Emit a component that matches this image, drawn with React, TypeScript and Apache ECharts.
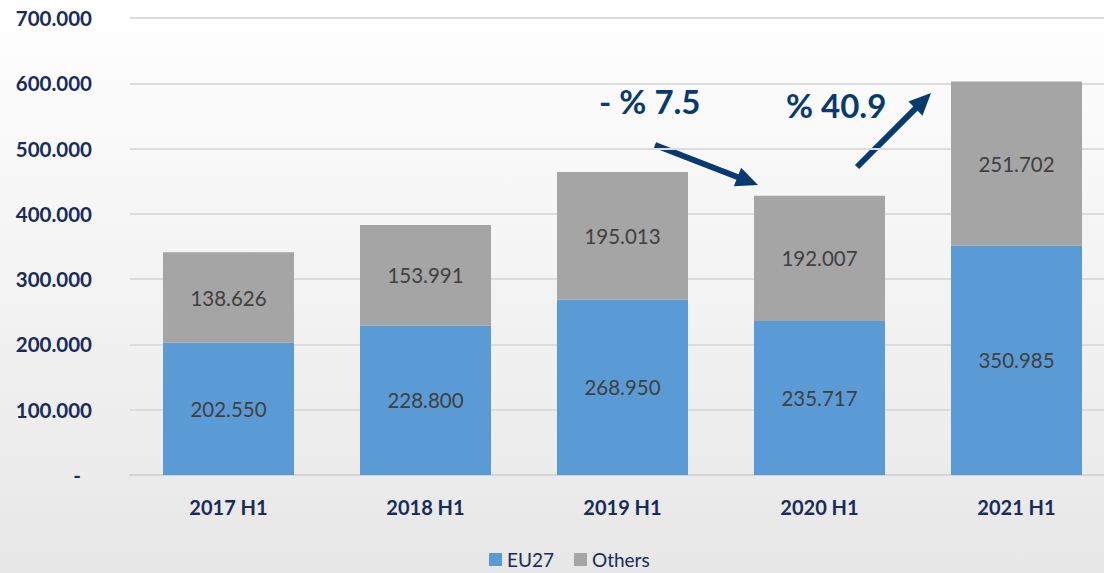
import React, { useEffect, useRef } from "react";
import * as echarts from "echarts";

const categories = ["2017 H1", "2018 H1", "2019 H1", "2020 H1", "2021 H1"];
const eu27 = [202550, 228800, 268950, 235717, 350985];
const others = [138626, 153991, 195013, 192007, 251702];
const seriesNames = ["EU27", "Others"];
const changeLabels = ["- % 7.5", "% 40.9"];

const NAVY = "#172b5c";
const ARROW = "#073a70";
const FONT = "Lato";

function fmt(v: number): string {
  if (v === 0) return "-";
  return Math.round(v).toString().replace(/\B(?=(\d{3})+(?!\d))/g, ".");
}

function arrow(x1: number, y1: number, x2: number, y2: number) {
  const dx = x2 - x1;
  const dy = y2 - y1;
  const len = Math.sqrt(dx * dx + dy * dy);
  const ux = dx / len;
  const uy = dy / len;
  const hl = 22;
  const hw = 10;
  const bx = x2 - ux * hl;
  const by = y2 - uy * hl;
  const nx = -uy;
  const ny = ux;
  return [
    {
      type: "line",
      shape: { x1, y1, x2: bx + ux * 2, y2: by + uy * 2 },
      style: { stroke: ARROW, lineWidth: 6 },
      silent: true,
    },
    {
      type: "polygon",
      shape: {
        points: [
          [x2, y2],
          [bx + nx * hw, by + ny * hw],
          [bx - nx * hw, by - ny * hw],
        ],
      },
      style: { fill: ARROW },
      silent: true,
    },
  ];
}

export default function App() {
  const ref = useRef<HTMLDivElement>(null);
  useEffect(() => {
    if (!ref.current) return;
    const chart = echarts.init(ref.current, null, { renderer: "svg" });
    const labelStyle = {
      show: true,
      position: "inside",
      color: "#404040",
      fontFamily: FONT,
      fontSize: 20.5,
      formatter: (p: any) => fmt(p.value),
    };
    chart.setOption({
      animation: false,
      backgroundColor: {
        type: "linear",
        x: 0,
        y: 0,
        x2: 0,
        y2: 1,
        colorStops: [
          { offset: 0, color: "#ffffff" },
          { offset: 1, color: "#e7e7e7" },
        ],
      },
      grid: { left: 130, right: 0, top: 18, bottom: 98, containLabel: false },
      xAxis: {
        type: "category",
        data: categories,
        axisLine: { show: true, lineStyle: { color: "#d4d4d4", width: 2 } },
        axisTick: { show: false },
        axisLabel: {
          color: NAVY,
          fontFamily: FONT,
          fontWeight: "bold",
          fontSize: 20,
          margin: 22,
        },
      },
      yAxis: {
        type: "value",
        min: 0,
        max: 700000,
        interval: 100000,
        axisLine: { show: false },
        axisTick: { show: false },
        splitLine: { lineStyle: { color: "#dcdcdc", width: 2 } },
        axisLabel: {
          color: NAVY,
          fontFamily: FONT,
          fontWeight: "bold",
          fontSize: 20.5,
          margin: 38,
          formatter: (v: number) => (v === 0 ? "{z|-}" : fmt(v)),
          rich: {
            z: {
              color: NAVY,
              fontFamily: FONT,
              fontWeight: "bold",
              fontSize: 20.5,
              padding: [0, 11, 0, 0],
            },
          },
        },
      },
      legend: {
        data: seriesNames,
        left: 484,
        top: 545,
        icon: "rect",
        itemWidth: 13,
        itemHeight: 13,
        itemGap: 20,
        textStyle: { color: NAVY, fontFamily: FONT, fontSize: 19 },
      },
      series: [
        {
          name: seriesNames[0],
          type: "bar",
          stack: "total",
          data: eu27,
          barCategoryGap: "33.5%",
          itemStyle: { color: "#5b9bd5" },
          label: labelStyle,
        },
        {
          name: seriesNames[1],
          type: "bar",
          stack: "total",
          data: others,
          barCategoryGap: "33.5%",
          itemStyle: { color: "#a5a5a5" },
          label: labelStyle,
        },
      ],
      graphic: [
        {
          type: "text",
          left: 599,
          top: 84,
          style: {
            text: changeLabels[0],
            fill: ARROW,
            font: `bold 33px ${FONT}`,
          },
        },
        {
          type: "text",
          left: 786,
          top: 88,
          style: {
            text: changeLabels[1],
            fill: ARROW,
            font: `bold 33px ${FONT}`,
          },
        },
        ...arrow(655, 145, 758, 185),
        ...arrow(857, 167, 931, 93),
      ],
    });
    return () => chart.dispose();
  }, []);
  return (
    <div
      style={{
        position: "absolute",
        left: 0,
        top: 0,
        width: 1104,
        height: 573,
        overflow: "hidden",
      }}
    >
      <div ref={ref} style={{ width: 1115, height: 573 }} />
    </div>
  );
}
